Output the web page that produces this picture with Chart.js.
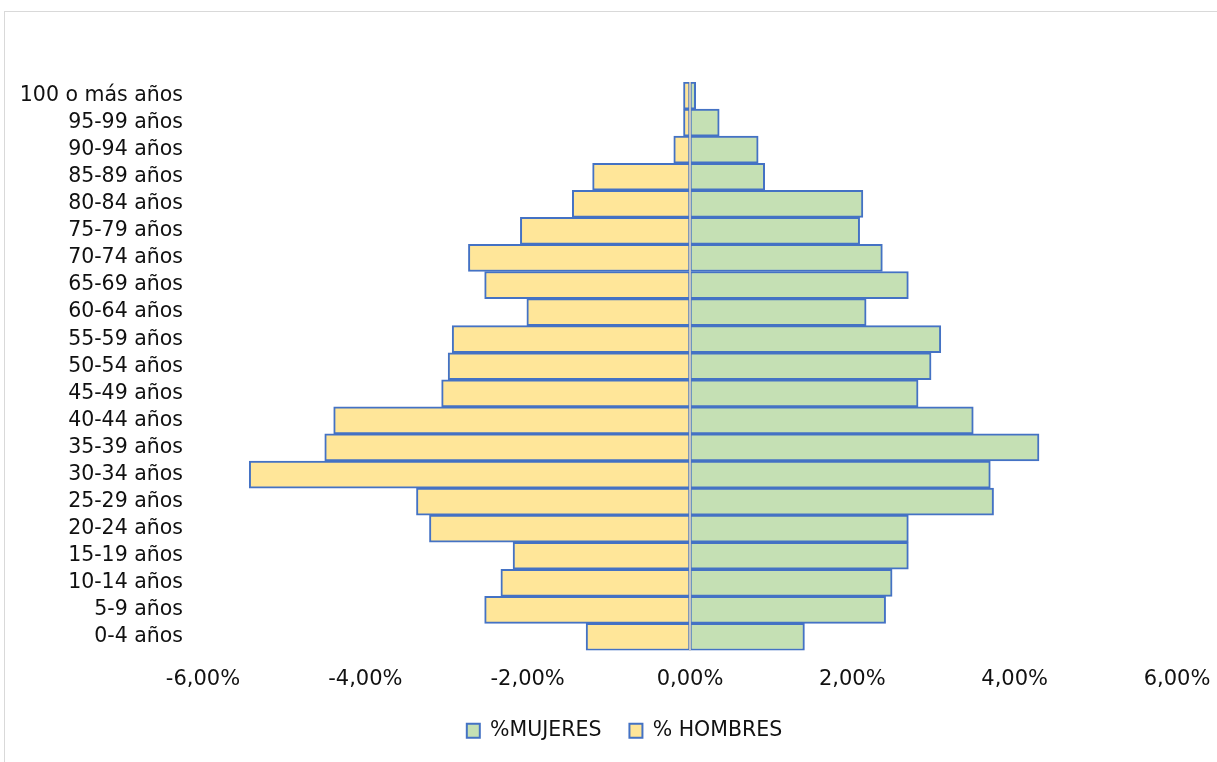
<!DOCTYPE html>
<html lang="es">
<head>
<meta charset="utf-8">
<title>Pirámide de población</title>
<script src="https://cdn.jsdelivr.net/npm/chart.js@4/dist/chart.umd.min.js"></script>
<style>
  html, body { margin: 0; padding: 0; background: #fff; overflow: hidden; }
  #wrap { position: relative; width: 1217px; height: 762px; }
  #frame { position: absolute; left: 4px; top: 11px; width: 1230px; height: 770px;
           border: 1px solid #d9d9d9; box-sizing: border-box; }
  #chart { position: absolute; left: 0; top: 0; }
</style>
</head>
<body>
<div id="wrap">
  <div id="frame"></div>
  <canvas id="chart" width="1217" height="762"></canvas>
</div>
<script>
// Age groups, youngest first
const ageGroups = [
  '0-4 años', '5-9 años', '10-14 años', '15-19 años', '20-24 años',
  '25-29 años', '30-34 años', '35-39 años', '40-44 años', '45-49 años',
  '50-54 años', '55-59 años', '60-64 años', '65-69 años', '70-74 años',
  '75-79 años', '80-84 años', '85-89 años', '90-94 años', '95-99 años',
  '100 o más años'
];

// Share of total population (%), women on the right
const mujeres = [
  1.41, 2.41, 2.49, 2.69, 2.69,
  3.74, 3.70, 4.30, 3.49, 2.81,
  2.97, 3.09, 2.17, 2.69, 2.37,
  2.09, 2.13, 0.92, 0.84, 0.36,
  0.07
];

// Share of total population (%), men on the left (negative)
const hombres = [
  -1.28, -2.53, -2.33, -2.18, -3.21,
  -3.37, -5.43, -4.50, -4.39, -3.06,
  -2.98, -2.93, -2.01, -2.53, -2.73,
  -2.09, -1.45, -1.20, -0.20, -0.08,
  -0.08
];

const xTicks = [-6, -4, -2, 0, 2, 4, 6];

const FONT = '"DejaVu Sans", "Noto Sans", sans-serif';
const TEXT = '#111111';

// Vertical line at 0 % drawn over the bars
const zeroLine = {
  id: 'zeroLine',
  afterDatasetsDraw(chart) {
    const { ctx, chartArea, scales } = chart;
    const x = scales.x.getPixelForValue(0);
    ctx.save();
    ctx.strokeStyle = '#c3c3c3';
    ctx.lineWidth = 2;
    ctx.beginPath();
    ctx.moveTo(x, chartArea.top);
    ctx.lineTo(x, chartArea.bottom);
    ctx.stroke();
    ctx.restore();
  }
};

// Nudge the legend row to the right so it sits under the pyramid
const legendOffset = {
  id: 'legendOffset',
  afterLayout(chart) {
    if (chart.legend) {
      chart.legend.left += 36;
      chart.legend.right += 36;
    }
  }
};

new Chart(document.getElementById('chart'), {
  type: 'bar',
  data: {
    labels: ageGroups,
    datasets: [
      {
        label: '%MUJERES',
        data: mujeres,
        backgroundColor: '#c5e0b4',
        borderColor: '#4472c4',
        borderWidth: 2,
        borderSkipped: false,
        barPercentage: 1,
        categoryPercentage: 1
      },
      {
        label: '% HOMBRES',
        data: hombres,
        backgroundColor: '#ffe699',
        borderColor: '#4472c4',
        borderWidth: 2,
        borderSkipped: false,
        barPercentage: 1,
        categoryPercentage: 1
      }
    ]
  },
  options: {
    indexAxis: 'y',
    responsive: false,
    animation: false,
    layout: { padding: { left: 0, right: 40, top: 82, bottom: 11 } },
    scales: {
      x: {
        stacked: true,
        min: -6,
        max: 6,
        afterBuildTicks(axis) { axis.ticks = xTicks.map(v => ({ value: v })); },
        afterFit(axis) {
          axis.height = 42;
          axis.paddingLeft = 0;
          axis.paddingRight = 0;
        },
        grid: { display: false, drawTicks: false },
        border: { display: false },
        ticks: {
          padding: 16,
          color: TEXT,
          font: { family: FONT, size: 21 },
          maxRotation: 0,
          callback: v => v.toFixed(2).replace('.', ',') + '%'
        }
      },
      y: {
        stacked: true,
        reverse: true,
        afterFit(axis) { axis.width = 203; },
        grid: { display: false, drawTicks: false },
        border: { display: false },
        ticks: {
          padding: 20,
          color: TEXT,
          autoSkip: false,
          font: { family: FONT, size: 20.5 }
        }
      }
    },
    plugins: {
      legend: {
        position: 'bottom',
        labels: {
          boxWidth: 13,
          boxHeight: 14,
          padding: 28,
          color: TEXT,
          font: { family: FONT, size: 20.5 }
        }
      },
      tooltip: { enabled: false }
    }
  },
  plugins: [zeroLine, legendOffset]
});
</script>
</body>
</html>
